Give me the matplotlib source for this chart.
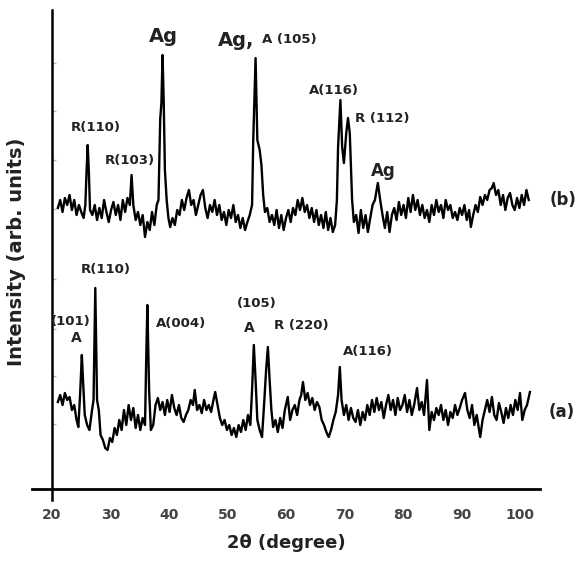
import numpy as np
import matplotlib
matplotlib.use("Agg")
from matplotlib import pyplot as plt

# trace (b): Ag-loaded sample (arb. units)
tt_b = [21.0, 21.4, 21.8, 22.2, 22.6, 23.0, 23.4, 23.8, 24.2, 24.6, 25.0, 25.4, 25.7, 25.9, 26.1, 26.3, 26.5, 26.9,
        27.3, 27.7, 28.1, 28.5, 28.9, 29.3, 29.7, 30.1, 30.5, 30.9, 31.3, 31.7, 32.1, 32.5, 32.9, 33.3, 33.6, 33.9,
        34.3, 34.7, 35.1, 35.5, 35.9, 36.3, 36.7, 37.1, 37.5, 37.9, 38.2, 38.5, 38.7, 38.9, 39.1, 39.3, 39.6, 39.9,
        40.2, 40.6, 41.0, 41.4, 41.8, 42.2, 42.6, 43.0, 43.4, 43.8, 44.2, 44.6, 45.0, 45.4, 45.8, 46.2, 46.6, 47.0,
        47.4, 47.8, 48.2, 48.6, 49.0, 49.4, 49.8, 50.2, 50.6, 51.0, 51.4, 51.8, 52.2, 52.6, 53.0, 53.4, 53.8, 54.2,
        54.4, 54.8, 55.1, 55.5, 55.8, 56.1, 56.4, 56.8, 57.2, 57.6, 58.0, 58.4, 58.8, 59.2, 59.6, 60.0, 60.4, 60.8,
        61.2, 61.6, 62.0, 62.4, 62.8, 63.2, 63.6, 64.0, 64.4, 64.8, 65.2, 65.6, 66.0, 66.4, 66.8, 67.2, 67.6, 68.0,
        68.4, 68.7, 68.9, 69.3, 69.6, 69.9, 70.3, 70.6, 70.9, 71.3, 71.6, 72.0, 72.4, 72.8, 73.2, 73.6, 74.0, 74.4,
        74.8, 75.2, 75.7, 76.1, 76.5, 76.9, 77.3, 77.7, 78.1, 78.5, 78.9, 79.3, 79.7, 80.1, 80.5, 80.9, 81.3, 81.7,
        82.1, 82.5, 82.9, 83.3, 83.7, 84.1, 84.5, 84.9, 85.3, 85.7, 86.1, 86.5, 86.9, 87.3, 87.7, 88.1, 88.5, 88.9,
        89.3, 89.7, 90.1, 90.5, 90.9, 91.3, 91.6, 92.0, 92.4, 92.8, 93.2, 93.6, 94.0, 94.4, 94.8, 95.2, 95.5, 95.9,
        96.3, 96.7, 97.1, 97.5, 97.9, 98.3, 98.7, 99.1, 99.5, 99.9, 100.3, 100.7, 101.1, 101.5]
int_b = [281, 289, 277, 291, 284, 294, 279, 289, 274, 284, 277, 271, 284, 317, 344, 317, 279, 274,
         284, 269, 281, 271, 289, 277, 267, 279, 287, 274, 284, 269, 289, 277, 291, 284, 314, 284,
         269, 277, 264, 274, 252, 267, 259, 277, 264, 284, 289, 370, 386, 434, 386, 319, 289, 271,
         262, 271, 264, 279, 274, 289, 279, 291, 299, 284, 289, 274, 284, 294, 299, 281, 271, 284,
         277, 289, 274, 284, 269, 277, 264, 279, 271, 284, 267, 274, 261, 271, 259, 267, 274, 284,
         349, 431, 349, 339, 324, 294, 277, 281, 267, 274, 264, 279, 261, 274, 259, 271, 279, 267,
         281, 274, 289, 279, 291, 277, 284, 271, 281, 267, 279, 264, 274, 261, 277, 259, 271, 257,
         264, 289, 342, 389, 342, 326, 356, 371, 356, 289, 267, 274, 256, 279, 261, 274, 257, 271,
         284, 289, 306, 289, 274, 261, 277, 257, 274, 281, 269, 287, 274, 284, 271, 291, 277, 294,
         279, 289, 274, 284, 271, 279, 267, 284, 274, 289, 277, 284, 271, 289, 279, 284, 271, 277,
         269, 281, 274, 284, 269, 279, 262, 274, 284, 277, 292, 284, 294, 289, 299, 301, 306, 294,
         299, 284, 294, 279, 291, 296, 284, 279, 291, 281, 294, 284, 299, 289]

# trace (a)
tt_a = [21.0, 21.4, 21.8, 22.2, 22.6, 23.0, 23.4, 23.8, 24.2, 24.5, 24.8, 25.1, 25.3, 25.6, 26.0, 26.4, 26.8, 27.1,
        27.4, 27.7, 28.0, 28.3, 28.7, 29.1, 29.5, 29.9, 30.3, 30.7, 31.1, 31.5, 31.9, 32.3, 32.7, 33.1, 33.5, 33.9,
        34.3, 34.7, 35.1, 35.5, 35.9, 36.1, 36.3, 36.6, 36.9, 37.3, 37.7, 38.1, 38.5, 38.9, 39.3, 39.7, 40.1, 40.5,
        40.9, 41.3, 41.7, 42.1, 42.5, 42.9, 43.3, 43.7, 44.1, 44.4, 44.8, 45.2, 45.6, 46.0, 46.4, 46.8, 47.2, 47.6,
        47.9, 48.3, 48.7, 49.1, 49.5, 49.9, 50.3, 50.7, 51.1, 51.5, 51.9, 52.3, 52.7, 53.1, 53.5, 53.9, 54.2, 54.5,
        54.8, 55.1, 55.5, 55.9, 56.3, 56.6, 56.9, 57.2, 57.5, 57.8, 58.2, 58.6, 59.0, 59.4, 59.8, 60.3, 60.7, 61.1,
        61.5, 61.9, 62.3, 62.6, 62.9, 63.3, 63.7, 64.1, 64.5, 64.9, 65.3, 65.7, 66.1, 66.5, 66.9, 67.3, 67.7, 68.1,
        68.5, 68.9, 69.2, 69.5, 69.9, 70.3, 70.7, 71.1, 71.5, 71.9, 72.3, 72.7, 73.1, 73.5, 73.9, 74.3, 74.7, 75.1,
        75.5, 75.9, 76.3, 76.7, 77.1, 77.5, 77.9, 78.3, 78.7, 79.1, 79.5, 79.9, 80.3, 80.7, 81.1, 81.5, 81.9, 82.4,
        82.8, 83.2, 83.6, 84.1, 84.5, 84.9, 85.3, 85.7, 86.1, 86.5, 86.9, 87.3, 87.7, 88.1, 88.5, 88.9, 89.3, 89.7,
        90.1, 90.6, 91.0, 91.4, 91.8, 92.2, 92.6, 93.0, 93.2, 93.6, 94.0, 94.4, 94.8, 95.2, 95.6, 96.0, 96.4, 96.8,
        97.2, 97.6, 98.0, 98.4, 98.8, 99.2, 99.6, 100.0, 100.4, 100.8, 101.2, 101.7]
int_a = [87, 94, 84, 96, 89, 92, 79, 84, 69, 62, 94, 134, 109, 74, 64, 59, 77, 89,
         201, 89, 79, 54, 49, 41, 39, 51, 47, 61, 54, 69, 59, 79, 64, 84, 69, 81,
         61, 74, 59, 71, 64, 129, 184, 99, 59, 64, 84, 91, 79, 87, 74, 89, 77, 94,
         81, 74, 84, 71, 67, 74, 79, 89, 84, 99, 79, 84, 76, 89, 79, 84, 77, 89,
         97, 84, 71, 64, 69, 59, 64, 54, 61, 52, 64, 57, 69, 59, 74, 64, 99, 144,
         109, 69, 59, 52, 89, 119, 142, 109, 79, 62, 69, 57, 71, 61, 79, 92, 69, 79,
         84, 74, 89, 94, 107, 89, 96, 84, 91, 79, 87, 82, 69, 64, 57, 52, 59, 69,
         77, 94, 122, 89, 74, 84, 69, 81, 71, 67, 79, 64, 77, 69, 84, 74, 89, 77,
         91, 79, 87, 71, 84, 94, 79, 89, 74, 91, 79, 84, 94, 77, 89, 74, 84, 101,
         79, 87, 74, 109, 59, 77, 69, 81, 74, 84, 69, 79, 64, 77, 71, 84, 74, 81,
         89, 96, 79, 71, 84, 64, 74, 59, 52, 69, 79, 89, 77, 92, 74, 69, 86, 77,
         66, 81, 71, 84, 74, 89, 79, 96, 69, 79, 84, 97]

x_ticks = [20, 30, 40, 50, 60, 70, 80, 90, 100]

fig = plt.figure(figsize=(5.79, 5.62), dpi=100)
ax = fig.add_axes([32 / 579, 73 / 562, 508 / 579, 479 / 562])

ax.plot(tt_b, int_b, color="black", lw=1.7)
ax.plot(tt_a, int_a, color="black", lw=1.7)

ax.set_xlim(16.58, 103.42)
ax.set_ylim(0, 479)
ax.spines["top"].set_visible(False)
ax.spines["right"].set_visible(False)
ax.spines["left"].set_position(("data", 20))
ax.spines["left"].set_bounds(-11, 479)
ax.spines["left"].set_linewidth(1.8)
ax.spines["bottom"].set_linewidth(2.0)

ax.set_xticks(x_ticks)
ax.set_xticklabels([str(t) for t in x_ticks], fontsize=10, fontweight="bold", color="#444444")
ax.tick_params(axis="x", length=0, pad=14)
ax.set_yticks([65, 113, 160, 210, 280, 329, 378, 426])
ax.set_yticklabels([])
ax.tick_params(axis="y", direction="in", length=3, width=1, color="#bbbbbb")

ax.set_xlabel("2θ (degree)", fontsize=13, fontweight="bold", color="#222222", labelpad=8)
fig.text(17 / 579, 1 - 252 / 562, "Intensity (arb. units)", rotation=90, ha="center", va="center",
         fontsize=14, fontweight="bold", color="#222222")

lab = dict(fontweight="bold", color="#222222", ha="center", va="center")
# labels for (b)
ax.text(39.0, 452, "Ag", fontsize=14, **lab)
ax.text(48.4, 449, "Ag,", fontsize=14, fontweight="bold", color="#222222", ha="left", va="center")
ax.text(55.9, 449, "A (105)", fontsize=9.5, fontweight="bold", color="#222222", ha="left", va="center")
ax.text(27.5, 362, "R(110)", fontsize=9.5, **lab)
ax.text(33.3, 329, "R(103)", fontsize=9.5, **lab)
ax.text(68.2, 399, "A(116)", fontsize=9.5, **lab)
ax.text(71.8, 371, "R (112)", fontsize=9.5, fontweight="bold", color="#222222", ha="left", va="center")
ax.text(76.6, 318, "Ag", fontsize=12, **lab)
ax.text(107.4, 289, "(b)", fontsize=12, clip_on=False, **lab)
# labels for (a)
ax.text(29.2, 219, "R(110)", fontsize=9.5, **lab)
ax.text(23.2, 167, "(101)", fontsize=9.5, **lab)
ax.text(24.1, 151, "A", fontsize=10, **lab)
ax.text(42.1, 166, "A(004)", fontsize=9.5, **lab)
ax.text(55.0, 185, "(105)", fontsize=9.5, **lab)
ax.text(53.8, 161, "A", fontsize=10, **lab)
ax.text(62.6, 163, "R (220)", fontsize=9.5, **lab)
ax.text(74.0, 137, "A(116)", fontsize=9.5, **lab)
ax.text(107.2, 77, "(a)", fontsize=12, clip_on=False, **lab)

fig.savefig("out.png", dpi=100)
